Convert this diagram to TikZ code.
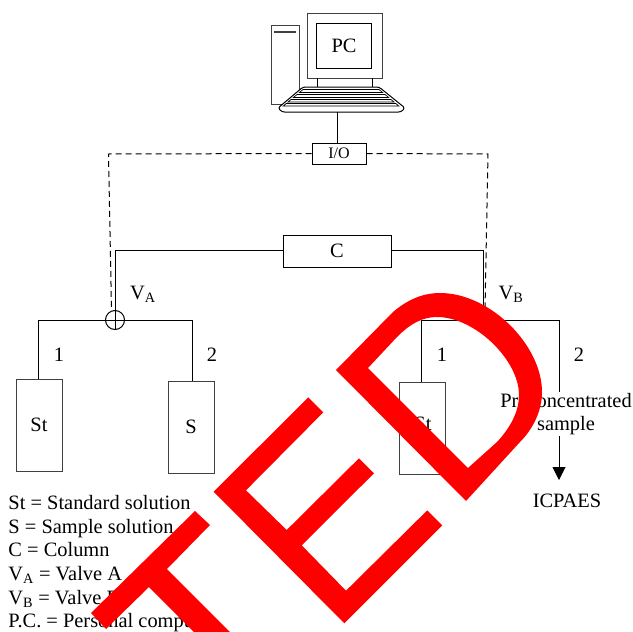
\documentclass[tikz,border=0pt]{standalone}
\usepackage{fontspec}
\setmainfont{Liberation Serif}
\usetikzlibrary{arrows.meta}

\begin{document}
\begin{tikzpicture}[
  x=1pt, y=-1pt,
  line width=1pt,
  block/.style = {
    draw, rectangle,
    inner sep=0pt,
    align=center,
    font=\fontsize{20.4}{23.6}\selectfont
  },
  tank/.style = {block, draw=black!75, minimum width=46pt, minimum height=92pt},
  label/.style = {inner sep=0pt, align=center, font=\fontsize{20.4}{23.6}\selectfont},
  ctrl/.style = {dashed, dash pattern=on 6pt off 4pt},
  stamp/.style = {fill=red, draw=none}
]
\useasboundingbox (0,0) rectangle (633,632);

% computer
\node[block, draw=black!75, minimum width=28pt, minimum height=79pt] (tower) at (285,64.5) {};
\draw[line width=1.4pt, black!75] (274,32) -- (296,32);
\node[block, draw=black!75, minimum width=75pt, minimum height=65pt] (monitor) at (344.5,45.5) {};
\node[block, minimum width=55pt, minimum height=45pt] (screen) at (344,46) {PC};
\draw (317,78) -- (317,87);
\draw (372,78) -- (372,87);
\draw[fill=white, rounded corners=2.5pt] (303,87) -- (379,87) -- (405,108) -- (401,112) -- (282,112) -- (278,108) -- cycle;
\foreach \ya/\yb in {89.5/92.5, 94.5/97.5, 99.5/102, 103.5/106} {
  \draw[line width=0.7pt] ({306-(\ya-87)*1.2},\ya) -- ({376+(\ya-87)*1.2},\ya)
    -- ({376+(\yb-87)*1.2},\yb) -- ({306-(\yb-87)*1.2},\yb) -- cycle;
}

% interface and column
\coordinate (kbd) at (337,112);
\node[block, minimum width=54pt, minimum height=21pt, font=\fontsize{16}{18}\selectfont] (io) at (339,153.5) {I/O};
\draw (kbd) -- (kbd |- io.north);
\node[block, minimum width=108pt, minimum height=32pt] (column) at (337,251) {C};

% left valve
\node[draw, circle, inner sep=0pt, minimum size=19pt] (valveA) at (115,320) {};
\coordinate (armSt) at (38.5,320);
\coordinate (armS) at (192,320);
\node[tank] (tankSt) at (39,425) {St};
\node[tank] (tankS) at (191,427) {S};
\draw (armSt) -- (valveA.west);
\draw (valveA.east) -- (armS);
\draw (valveA.north) -- (valveA.south);
\draw (valveA.west) -- (valveA.east);
\draw (armSt) -- (armSt |- tankSt.north);
\draw (armS) -- (armS |- tankS.north);
\node[label] (portA) at (59,355) {1};
\node[label] (portB) at (212,355) {2};
\node[label] (nameA) at (143,294) {V\textsubscript{A}};

% right valve
\coordinate (valveB) at (483,320);
\coordinate (armStB) at (421,320);
\coordinate (armOut) at (559,320);
\node[tank] (tankStB) at (422.5,428) {};
\node[label] (nameStB) at (423,424) {St};
\draw (armStB) -- (armOut);
\draw (armStB) -- (armStB |- tankStB.north);
\node[label] (portC) at (442,355) {1};
\node[label] (portD) at (579,355) {2};
\node[label] (nameB) at (511,294) {V\textsubscript{B}};

\node[label] (icp) at (567,501) {ICPAES};
\coordinate (tip) at (559,480);
\draw[-{Triangle[length=13pt,width=13pt]}] (armOut) -- (tip);
\node[label, fill=white, inner ysep=1pt] (precon) at (566,414) {Preconcentrated\\sample};

% connections
\coordinate (cornerC) at (115,250);
\coordinate (cornerD) at (483,250);
\draw (valveA.north) -- (cornerC) -- (column.west |- cornerC);
\draw (column.east |- cornerD) -- (cornerD) -- (valveB);
\coordinate (dashTL) at (108.5,154);
\coordinate (dashBL) at (111.5,310);
\coordinate (dashTR) at (488,154);
\coordinate (dashBR) at (485,310);
\draw[ctrl] (io.west) -- (dashTL) -- (dashBL);
\draw[ctrl] (io.east) -- (dashTR) -- (dashBR);

% legend
\node[label, align=left, anchor=north west] (legend) at (8,495) {St = Standard solution\\S = Sample solution\\C = Column\\V\textsubscript{A} = Valve A\\V\textsubscript{B} = Valve B\\P.C. = Personal computer};

% stamp
\fill[stamp] (91,613) -- (195,511) -- (210,525) -- (167,569) -- (230,632) -- (194,632) -- (149,587) -- (106,629) -- cycle;
\fill[stamp] (213.7,491.7) -- (308.3,397.3) -- (323.3,412.3) -- (246,490.3) -- (286.7,530) -- (359,458.3) -- (374,473.3)
  -- (301.7,545.3) -- (346,590.7) -- (427.3,510.3) -- (442.3,525.3) -- (344.3,623.3) -- cycle;
\fill[stamp, even odd rule] (336,370) -- (393,312) .. controls (412,296) and (428,293) .. (440,293)
  .. controls (490,293) and (542,345) .. (542,392) .. controls (542,412) and (532,430) .. (520,442) -- (466,501) -- cycle
  (368,368) -- (468,468) -- (497,442) .. controls (510,428) and (519,412) .. (519,395)
  .. controls (519,360) and (475,317) .. (437,317) .. controls (422,317) and (410,324) .. (397,337) -- cycle;
\end{tikzpicture}
\end{document}
